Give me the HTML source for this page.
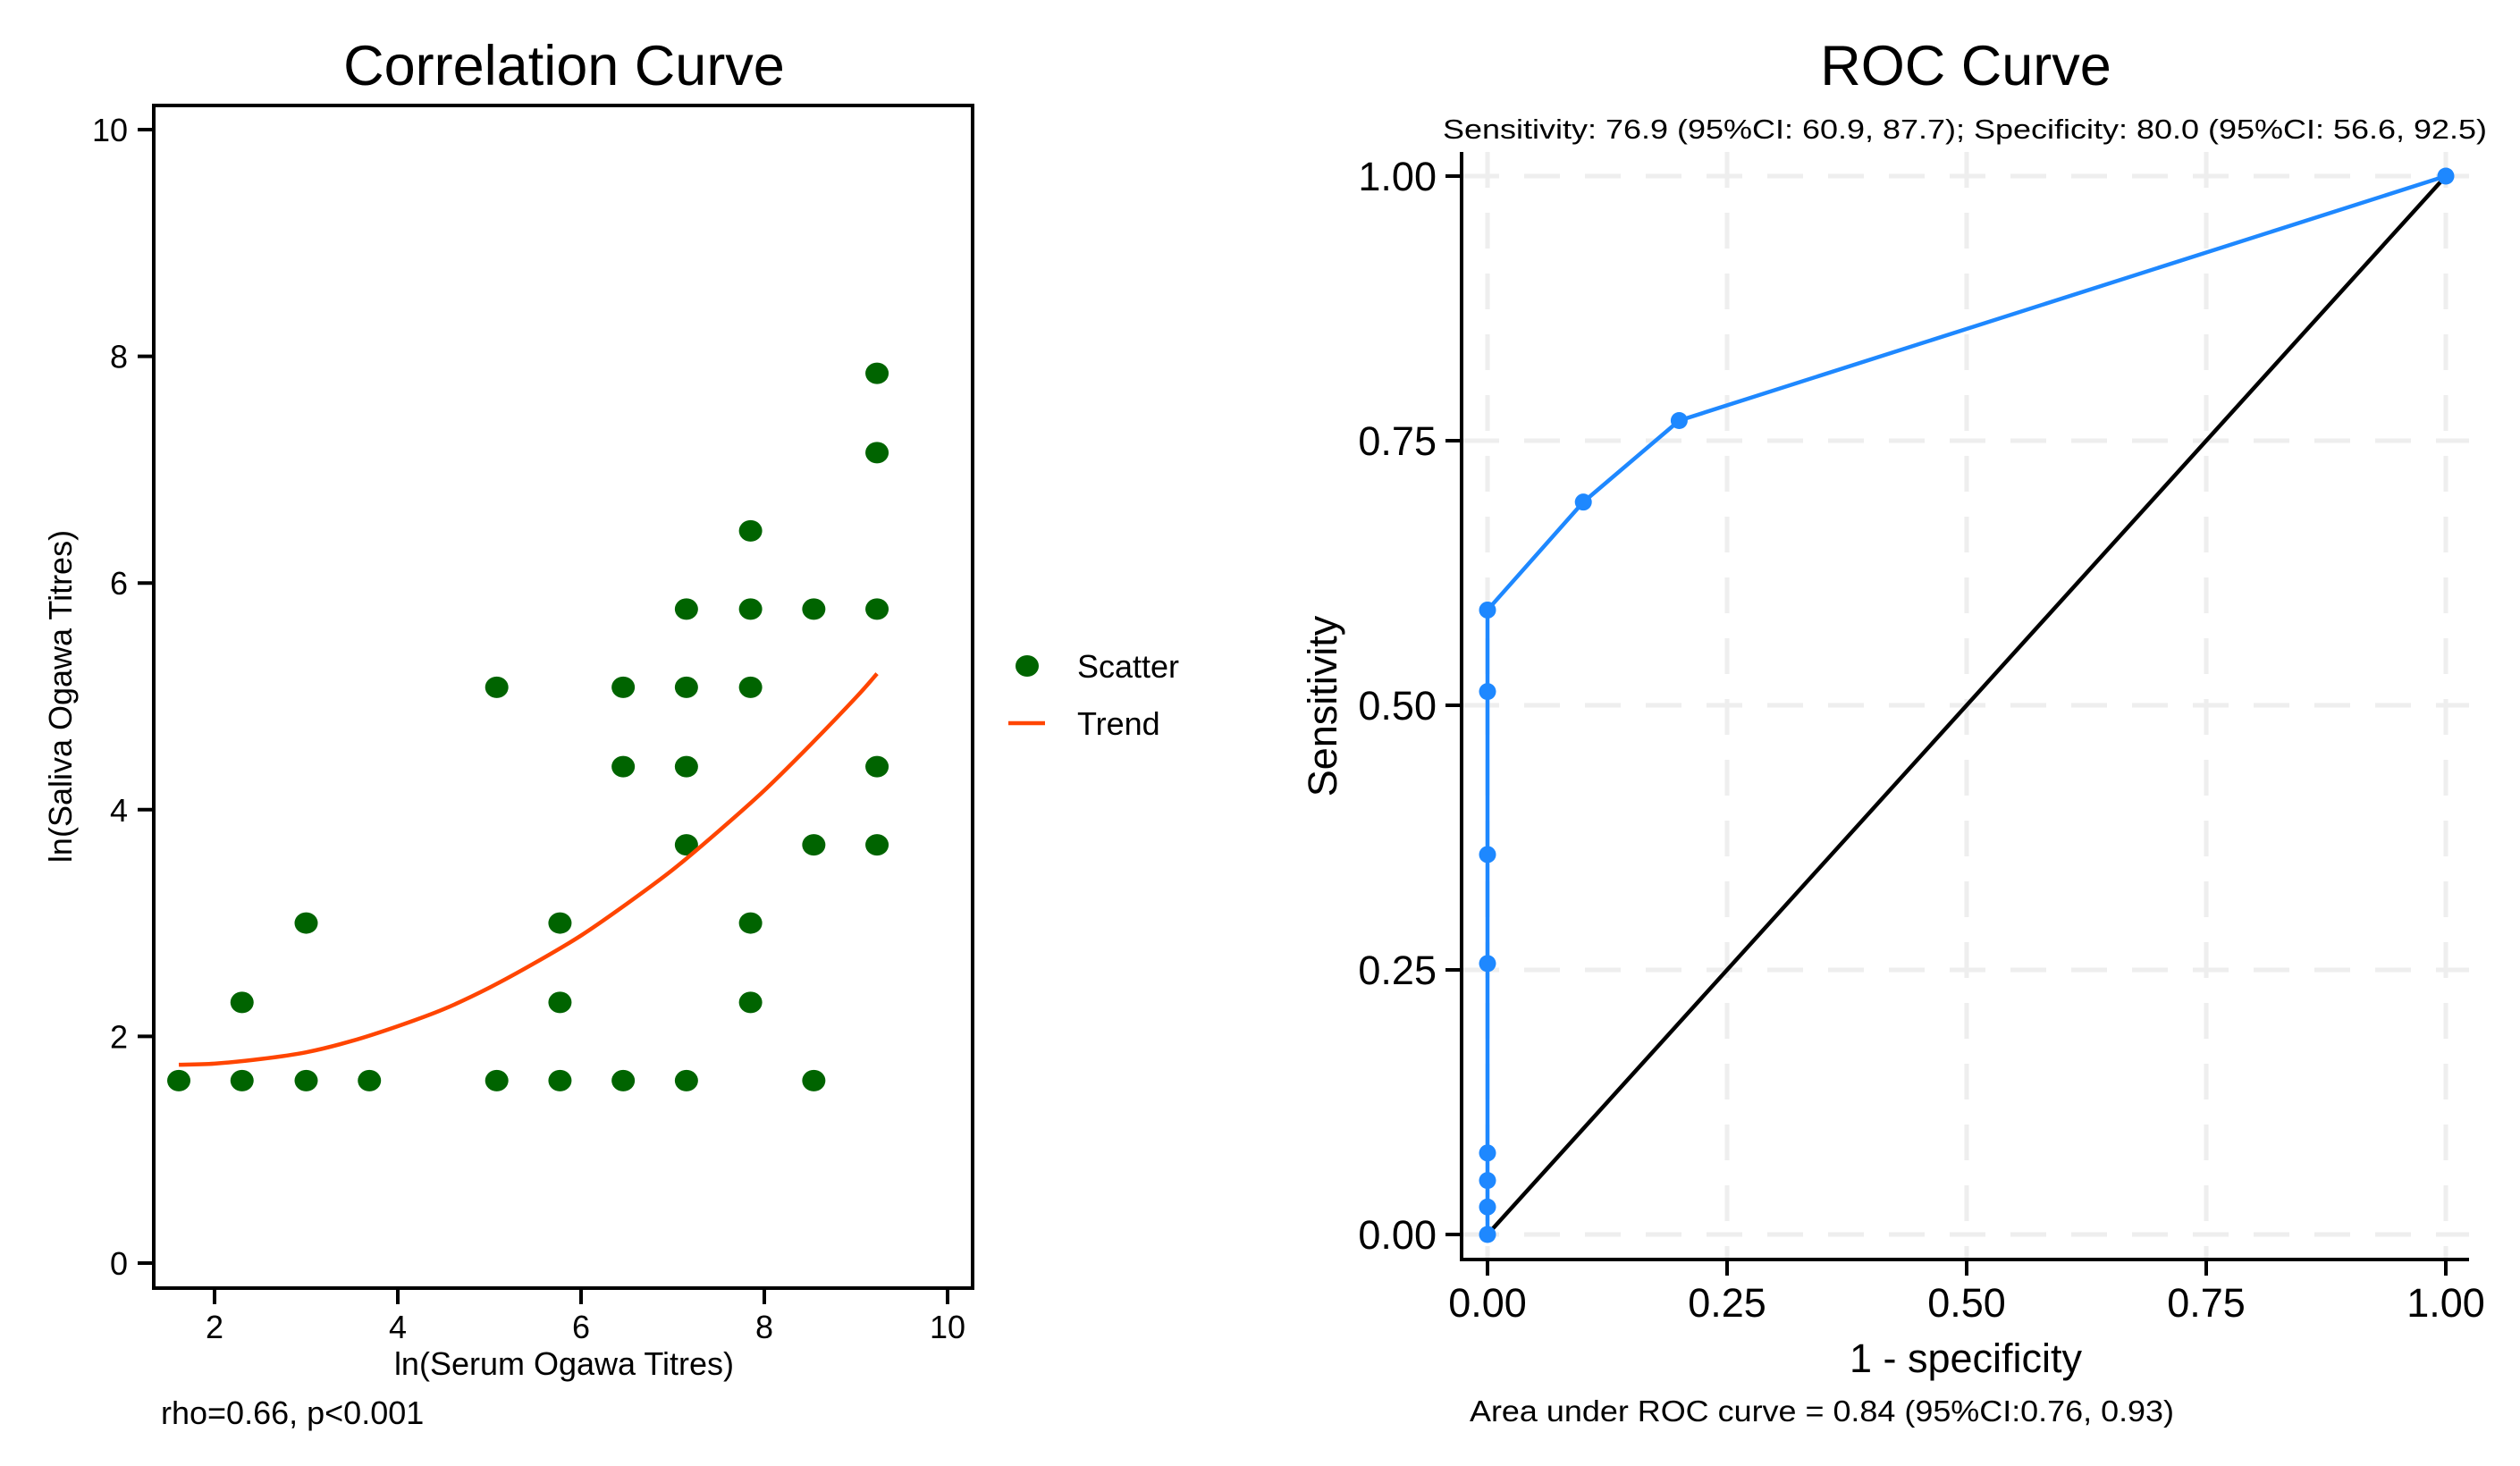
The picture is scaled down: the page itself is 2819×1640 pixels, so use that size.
<!DOCTYPE html>
<html><head><meta charset="utf-8"><style>
html,body{margin:0;padding:0;background:#fff;}
svg{display:block;font-family:"Liberation Sans",Arial,sans-serif;}
</style></head><body>
<svg id="chart" width="2819" height="1640" viewBox="0 0 2819 1640" xmlns="http://www.w3.org/2000/svg">
<rect width="2819" height="1640" fill="#fff"/>
<g id="left"></g>
<g id="right"></g>
</svg>
<script>
// ---- Correlation data ----
const scatterX = [1.61,2.30,2.30,3.00,3.00,3.69,5.08,5.08,5.77,5.77,5.77,6.46,6.46,6.46,7.15,7.15,7.15,7.15,7.15,7.85,7.85,7.85,7.85,7.85,8.54,8.54,8.54,9.23,9.23,9.23,9.23,9.23];
const scatterY = [1.61,1.61,2.30,1.61,3.00,1.61,1.61,5.08,1.61,2.30,3.00,1.61,4.38,5.08,1.61,3.69,4.38,5.08,5.77,2.30,3.00,5.08,5.77,6.46,1.61,3.69,5.77,3.69,4.38,5.77,7.15,7.85];
const trendX = [1.61,2.0,2.5,3.0,3.5,4.0,4.5,5.0,5.5,6.0,6.5,7.0,7.5,8.0,8.5,9.0,9.23];
const trendY = [1.75,1.76,1.80,1.86,1.96,2.09,2.24,2.43,2.65,2.89,3.17,3.47,3.81,4.17,4.57,4.99,5.20];
const corrXTicks = [2,4,6,8,10];
const corrYTicks = [0,2,4,6,8,10];
// ---- ROC data ----
const rocX = [0,0,0,0,0,0,0,0,0.1,0.2,1];
const rocY = [0,0.026,0.051,0.077,0.256,0.359,0.513,0.590,0.692,0.769,1];
const rocTicks = [0,0.25,0.5,0.75,1];
const rocTickLabels = ["0.00","0.25","0.50","0.75","1.00"];

const NS="http://www.w3.org/2000/svg";
function mk(parent,tag,attrs,text){const e=document.createElementNS(NS,tag);for(const k in attrs)e.setAttribute(k,attrs[k]);if(text!==undefined)e.textContent=text;parent.appendChild(e);return e;}
function smoothPath(pts){
  let d='M'+pts[0][0]+' '+pts[0][1];
  for(let i=0;i<pts.length-1;i++){
    const p0=pts[Math.max(0,i-1)],p1=pts[i],p2=pts[i+1],p3=pts[Math.min(pts.length-1,i+2)];
    const c1=[p1[0]+(p2[0]-p0[0])/6,p1[1]+(p2[1]-p0[1])/6];
    const c2=[p2[0]-(p3[0]-p1[0])/6,p2[1]-(p3[1]-p1[1])/6];
    d+=' C'+c1[0]+' '+c1[1]+' '+c2[0]+' '+c2[1]+' '+p2[0]+' '+p2[1];
  }
  return d;
}

// Left chart
const L=document.getElementById('left');
const lx=v=>240+(v-2)*102.5;
const ly=v=>1413-v*126.8;
let e;
e=mk(L,'text',{x:631,y:95,'font-size':63,'text-anchor':'middle',fill:'#000'},'Correlation Curve');


e=mk(L,'rect',{x:172,y:118,width:916,height:1323,fill:'none',stroke:'#000','stroke-width':4});


corrYTicks.forEach(t=>{
  e=mk(L,'line',{x1:154,x2:172,y1:ly(t),y2:ly(t),stroke:'#000','stroke-width':4});
  
  
  e=mk(L,'text',{x:143,y:ly(t)+13,'font-size':36,'text-anchor':'end'},String(t));
  
  
});
corrXTicks.forEach(t=>{
  e=mk(L,'line',{x1:lx(t),x2:lx(t),y1:1441,y2:1459,stroke:'#000','stroke-width':4});
  
  
  e=mk(L,'text',{x:lx(t),y:1497,'font-size':36,'text-anchor':'middle'},String(t));
  
  
});
e=mk(L,'text',{x:631,y:1538,'font-size':36,'text-anchor':'middle'},'ln(Serum Ogawa Titres)');


e=mk(L,'text',{x:0,y:0,'font-size':36,'text-anchor':'middle',transform:'translate(80,779) rotate(-90)'},'ln(Saliva Ogawa Titres)');


e=mk(L,'text',{x:180,y:1593,'font-size':36},'rho=0.66, p<0.001');


scatterX.forEach((v,i)=>{
  e=mk(L,'ellipse',{cx:lx(v),cy:ly(scatterY[i]),rx:13,ry:12,fill:'#006400'});
  
  
});
e=mk(L,'path',{d:smoothPath(trendX.map((v,i)=>[lx(v),ly(trendY[i])])),fill:'none',stroke:'#ff4500','stroke-width':4.5});


e=mk(L,'ellipse',{cx:1149,cy:745,rx:13,ry:12,fill:'#006400'});


e=mk(L,'text',{x:1205,y:758,'font-size':36},'Scatter');


e=mk(L,'line',{x1:1128,x2:1169,y1:809,y2:809,stroke:'#ff4500','stroke-width':4.5});


e=mk(L,'text',{x:1205,y:822,'font-size':36},'Trend');



// Right chart
const R=document.getElementById('right');
const rx=v=>1664+v*1072;
const ry=v=>1381-v*1184;
rocTicks.forEach(t=>{
  e=mk(R,'line',{x1:1637,x2:2762,y1:ry(t),y2:ry(t),stroke:'#eeeeee','stroke-width':5,'stroke-dasharray':'40 28'});
  
  
  e=mk(R,'line',{x1:rx(t),x2:rx(t),y1:170,y2:1407,stroke:'#eeeeee','stroke-width':5,'stroke-dasharray':'40 28'});
  
  
});
e=mk(R,'path',{d:'M1635 170 V1409 H2762',fill:'none',stroke:'#000','stroke-width':4});


rocTicks.forEach((t,i)=>{
  e=mk(R,'line',{x1:1617,x2:1635,y1:ry(t),y2:ry(t),stroke:'#000','stroke-width':4});
  
  
  e=mk(R,'text',{x:1607,y:ry(t)+16,'font-size':45,'text-anchor':'end'},rocTickLabels[i]);
  
  
  e=mk(R,'line',{x1:rx(t),x2:rx(t),y1:1409,y2:1427,stroke:'#000','stroke-width':4});
  
  
  e=mk(R,'text',{x:rx(t),y:1473,'font-size':45,'text-anchor':'middle'},rocTickLabels[i]);
  
  
});
e=mk(R,'line',{x1:rx(0),y1:ry(0),x2:rx(1),y2:ry(1),stroke:'#000','stroke-width':4.5});


e=mk(R,'polyline',{points:rocX.map((v,i)=>rx(v)+','+ry(rocY[i])).join(' '),fill:'none',stroke:'#1e88ff','stroke-width':4.5});


rocX.forEach((v,i)=>{
  e=mk(R,'circle',{cx:rx(v),cy:ry(rocY[i]),r:9.5,fill:'#1e88ff'});
  
  
});
e=mk(R,'text',{x:2199,y:95,'font-size':63,'text-anchor':'middle'},'ROC Curve');


e=mk(R,'text',{x:1614,y:155,'font-size':31,textLength:1168,lengthAdjust:'spacingAndGlyphs'},'Sensitivity: 76.9 (95%CI: 60.9, 87.7); Specificity: 80.0 (95%CI: 56.6, 92.5)');


e=mk(R,'text',{x:0,y:0,'font-size':45,'text-anchor':'middle',transform:'translate(1495,790) rotate(-90)'},'Sensitivity');


e=mk(R,'text',{x:2199,y:1535,'font-size':45,'text-anchor':'middle'},'1 - specificity');


e=mk(R,'text',{x:1644,y:1590,'font-size':33,textLength:788,lengthAdjust:'spacingAndGlyphs'},'Area under ROC curve = 0.84 (95%CI:0.76, 0.93)');


</script>
</body></html>
